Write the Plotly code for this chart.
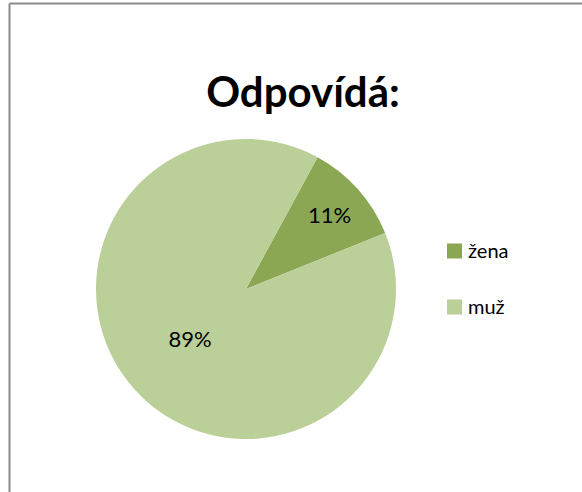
import plotly.graph_objects as go

labels = ["žena", "muž"]
values = [11, 89]
colors = ["#8CA754", "#BBCF99"]
title_text = "Odpovídá:"

fig = go.Figure()
fig.add_trace(go.Pie(
    labels=labels,
    values=values,
    sort=False,
    direction="clockwise",
    rotation=28.5,
    marker=dict(colors=colors, line=dict(width=0)),
    textinfo="percent",
    texttemplate="%{percent:.0%}",
    textposition="inside",
    insidetextorientation="horizontal",
    textfont=dict(family="Lato", size=22, color="#000000"),
    domain=dict(x=[96/582, 396/582], y=[1-439/492, 1-139/492]),
    showlegend=False,
    hoverinfo="label+percent",
))

# custom legend (to match wide spacing)
leg_y = [251, 307]
for i, (lab, col) in enumerate(zip(labels, colors)):
    fig.add_shape(type="rect", xref="paper", yref="paper",
                  x0=447/582, x1=462/582,
                  y0=1-(leg_y[i]+7.5)/492, y1=1-(leg_y[i]-7.5)/492,
                  fillcolor=col, line=dict(width=0))
    fig.add_annotation(x=466/582, y=1-(leg_y[i]-1)/492, xref="paper", yref="paper",
                       text=lab, showarrow=False, xanchor="left", yanchor="middle",
                       font=dict(family="Lato", size=20, color="#000000"))

# chart border (top and left visible)
fig.add_shape(type="line", xref="paper", yref="paper", x0=9.5/582, x1=1, y0=1-3.5/492, y1=1-3.5/492,
              line=dict(color="#8A8A8A", width=2))
fig.add_shape(type="line", xref="paper", yref="paper", x0=9.5/582, x1=9.5/582, y0=0, y1=1-3.5/492,
              line=dict(color="#8A8A8A", width=2))

fig.update_layout(
    width=582, height=492,
    margin=dict(l=0, r=0, t=0, b=0),
    paper_bgcolor="white", plot_bgcolor="white",
    title=dict(text="<b>" + title_text + "</b>", x=303/582, xanchor="center",
               y=1-92/492, yanchor="middle",
               font=dict(family="Lato", size=42, color="#000000")),
)

fig.write_html("out.html", config={"displayModeBar": False},
               post_script="document.body.style.margin='0';")
